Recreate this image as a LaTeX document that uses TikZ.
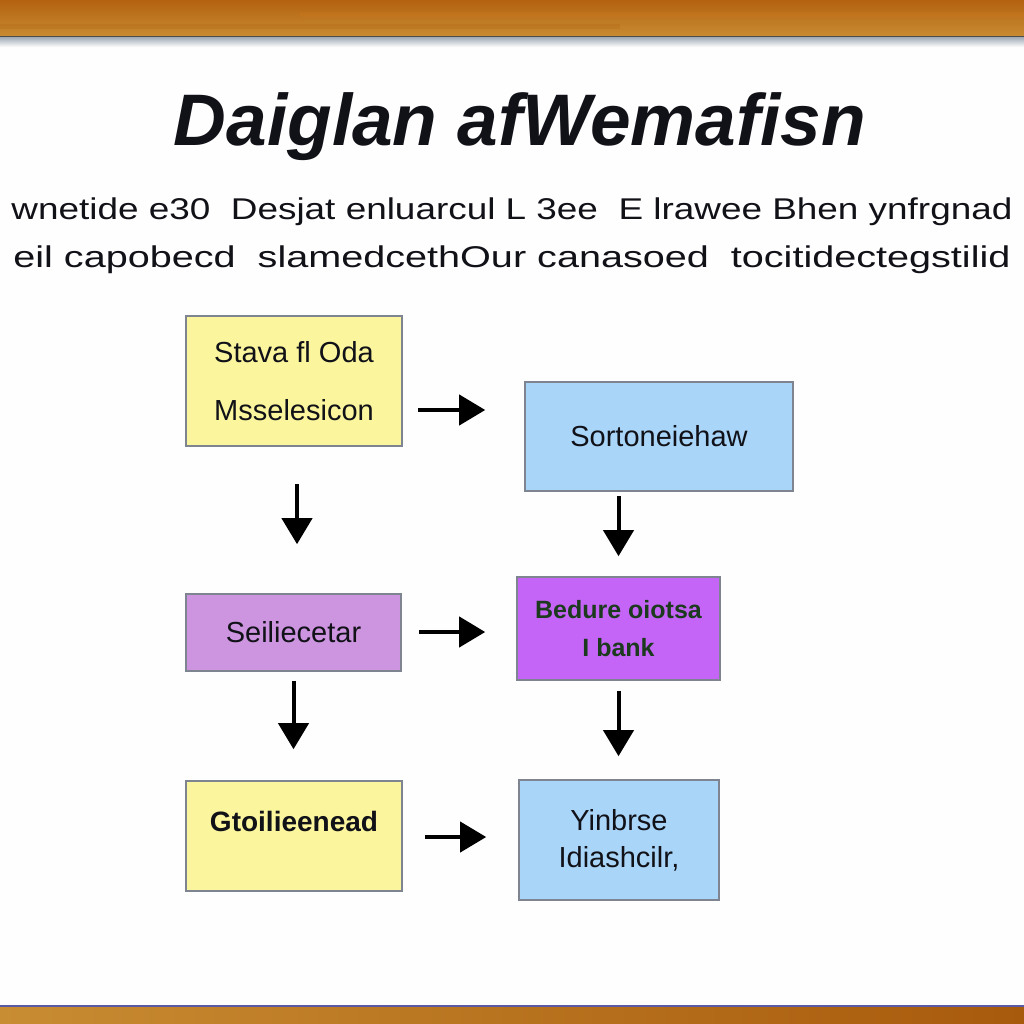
\documentclass[tikz,border=0pt]{standalone}
\usepackage{fontspec}
\usepackage{graphicx}
\setmainfont{Liberation Sans}
\usetikzlibrary{arrows.meta,calc,positioning}
\definecolor{woodA}{HTML}{B4620F}
\definecolor{woodB}{HTML}{C88C32}
\definecolor{woodC}{HTML}{A85A0C}
\definecolor{woodD}{HTML}{D07A1E}
\definecolor{boardgray}{HTML}{A8B2BC}
\definecolor{boxyellow}{HTML}{FBF69E}
\definecolor{boxblue}{HTML}{A9D5F9}
\definecolor{boxlilac}{HTML}{CD95DF}
\definecolor{boxviolet}{HTML}{C565F7}
\definecolor{boxline}{HTML}{7E8490}
\definecolor{inkdark}{HTML}{111118}
\definecolor{inkgreen}{HTML}{1C3A1E}
\tikzset{
	stepbox/.style={rectangle,draw=boxline,line width=1.6pt,inner sep=4pt,text=inkdark,font=\fontsize{29}{34}\selectfont,align=center},
	flowedge/.style={-{Triangle[width=30pt,length=26pt]},line width=4pt,color=black},
	titletext/.style={font=\fontsize{73}{80}\selectfont\bfseries\itshape,text=inkdark,anchor=base},
	subtext/.style={font=\fontsize{30}{36}\selectfont,text=inkdark,anchor=base}
}
\begin{document}
\begin{tikzpicture}[x=1pt,y=-1pt]
	\useasboundingbox (0,0) rectangle (1024,1024);
	%%%% board and frame
	\fill[white!99!gray] (0,0) rectangle (1024,1024);
	\shade[top color=woodA,bottom color=woodB] (0,0) rectangle (1024,37);
	\fill[woodD,opacity=.25] (300,12) rectangle (1024,17);
	\fill[woodC,opacity=.2] (0,24) rectangle (620,29);
	\draw[color=black!70,line width=1pt] (0,37) -- (1024,37);
	\shade[top color=boardgray,bottom color=white!99!gray] (0,38) rectangle (1024,47);
	\shade[left color=woodB,middle color=woodD,right color=woodC] (0,1007) rectangle (1024,1024);
	\draw[color=blue!30!gray,line width=1.5pt] (0,1006) -- (1024,1006);
	
	%%%% title and subtitle
	\node[titletext] (title) at (520,146) {Daiglan afWemafisn};
	\node[subtext] (subA) at (512,220) {\scalebox{1.23}[1]{wnetide e30\ \ Desjat enluarcul L 3ee\ \ E lrawee Bhen ynfrgnad}};
	\node[subtext] (subB) at (512,267) {\scalebox{1.32}[1]{eil capobecd\ \ slamedcethOur canasoed\ \ tocitidectegstilid}};
	
	%%%% steps
	\node[stepbox,fill=boxyellow,minimum width=216pt,minimum height=130pt] (stava) at (294,381) {Stava fl Oda\\[24pt]Msselesicon};
	\node[stepbox,fill=boxblue,minimum width=268pt,minimum height=109pt] (sorto) at (659,436.5) {Sortoneiehaw};
	\node[stepbox,fill=boxlilac,minimum width=215pt,minimum height=77pt] (seili) at (293.5,632.5) {Seiliecetar};
	\node[stepbox,fill=boxviolet,text=inkgreen,minimum width=203pt,minimum height=103pt,font=\fontsize{25}{38}\selectfont\bfseries] (bedure) at (618.5,628.5) {Bedure oiotsa\\I bank};
	\node[stepbox,fill=boxyellow,minimum width=216pt,minimum height=110pt,text depth=30pt,font=\fontsize{28}{34}\selectfont\bfseries] (gtoil) at (294,836) {Gtoilieenead};
	\node[stepbox,fill=boxblue,minimum width=200pt,minimum height=120pt,font=\fontsize{29}{37}\selectfont] (yinb) at (619,840) {Yinbrse\\Idiashcilr,};
	
	%%%% arrows
	\draw[flowedge,shorten <=15pt,shorten >=39pt] (stava.east |- 0,410) -- (sorto.west |- 0,410);
	\draw[flowedge,shorten <=37pt,shorten >=49pt] ([xshift=3pt]stava.south) -- ([xshift=3pt]stava.south |- seili.north);
	\draw[flowedge,shorten <=4pt,shorten >=20pt] (bedure.north |- sorto.south) -- (bedure.north);
	\draw[flowedge,shorten <=17pt,shorten >=31pt] (seili.east |- 0,632) -- (bedure.west |- 0,632);
	\draw[flowedge,shorten <=9pt,shorten >=31pt] (seili.south) -- (seili.south |- gtoil.north);
	\draw[flowedge,shorten <=10pt,shorten >=23pt] (bedure.south) -- (bedure.south |- yinb.north);
	\draw[flowedge,shorten <=22pt,shorten >=32pt] (gtoil.east |- 0,837) -- (yinb.west |- 0,837);
\end{tikzpicture}
\end{document}
